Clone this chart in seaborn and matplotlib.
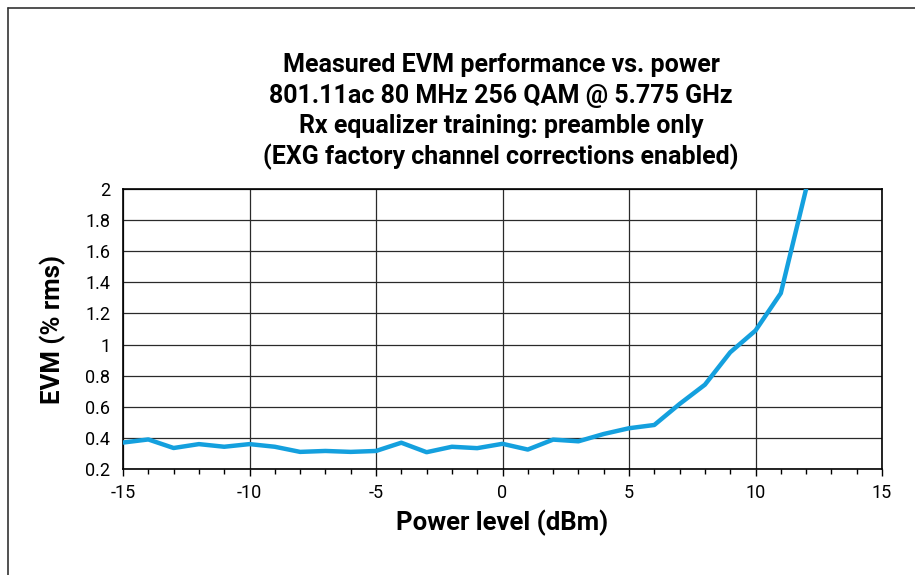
import numpy as np
import pandas as pd
import matplotlib
matplotlib.use("Agg")
import matplotlib.pyplot as plt
import seaborn as sns
from matplotlib.ticker import MultipleLocator, FuncFormatter

power_dbm = [-15, -14, -13, -12, -11, -10, -9, -8, -7, -6, -5, -4, -3, -2, -1,
             0, 1, 2, 3, 4, 5, 6, 7, 8, 9, 10, 11, 12]
evm_pct = [0.37, 0.39, 0.335, 0.36, 0.343, 0.36, 0.343, 0.31, 0.316, 0.31, 0.316, 0.369,
           0.308, 0.343, 0.334, 0.362, 0.325, 0.389, 0.378, 0.425, 0.462, 0.483, 0.618,
           0.742, 0.95, 1.09, 1.33, 2.0]

title_lines = ["Measured EVM performance vs. power",
               "801.11ac 80 MHz 256 QAM @ 5.775 GHz",
               "Rx equalizer training: preamble only",
               "(EXG factory channel corrections enabled)"]
x_label = "Power level (dBm)"
y_label = "EVM (% rms)"

sns.set_theme(style="white")
fam = ["Roboto", "DejaVu Sans"]
plt.rcParams["font.family"] = fam
plt.rcParams["axes.unicode_minus"] = False
plt.rcParams["text.color"] = "black"
plt.rcParams["axes.labelcolor"] = "black"
plt.rcParams["xtick.color"] = "black"
plt.rcParams["ytick.color"] = "black"

df = pd.DataFrame({"power": power_dbm, "evm": evm_pct})

fig = plt.figure(figsize=(9.15, 5.75), dpi=100)
ax = fig.add_axes([123/915, 1 - 469/575, (882-123)/915, (469-189)/575])

sns.lineplot(data=df, x="power", y="evm", ax=ax, color="#14A0DE", linewidth=3.2, zorder=3)

ax.set_xlim(-15, 15)
ax.set_ylim(0.2, 2.0)
ax.xaxis.set_major_locator(MultipleLocator(5))
ax.xaxis.set_minor_locator(MultipleLocator(1))
ax.yaxis.set_major_locator(MultipleLocator(0.2))
ax.grid(True, which="major", color="#2a2a2a", linewidth=0.9)
ax.set_axisbelow(True)

def fmt_y(v, pos):
    s = f"{v:.1f}"
    if s.endswith(".0"):
        s = s[:-2]
    return s
ax.yaxis.set_major_formatter(FuncFormatter(fmt_y))
ax.xaxis.set_major_formatter(FuncFormatter(lambda v, p: f"{int(round(v))}"))

ax.tick_params(axis="x", which="major", direction="out", length=5, width=1, color="black",
               labelsize=13, pad=6, bottom=True, labelcolor="black")
ax.tick_params(axis="x", which="minor", direction="out", length=3.5, width=1, color="black", bottom=True)
ax.tick_params(axis="y", which="major", length=0, labelsize=13, pad=9, labelcolor="black")
for lab in ax.get_xticklabels() + ax.get_yticklabels():
    lab.set_family(fam)

for s in ax.spines.values():
    s.set_color("black")
    s.set_linewidth(1.2)
    s.set_visible(True)

ax.set_xlabel(x_label, fontsize=18.5, fontweight="bold", labelpad=5, family=fam, color="black")
ax.set_ylabel(y_label, fontsize=18.5, fontweight="bold", labelpad=14, family=fam, color="black")

y0 = 65
for i, line in enumerate(title_lines):
    fig.text(501/915, 1 - (y0 + i * 30.5) / 575, line, ha="center", va="center",
             fontsize=18, fontweight="bold", family=fam, color="black")

# figure frame (left and top edges)
fig.add_artist(plt.Line2D([8/915, 8/915], [0, 1 - 8/575], transform=fig.transFigure,
                          color="#333333", linewidth=1.2))
fig.add_artist(plt.Line2D([8/915, 1], [1 - 8/575, 1 - 8/575], transform=fig.transFigure,
                          color="#333333", linewidth=1.2))

fig.savefig("out.png", dpi=100)
